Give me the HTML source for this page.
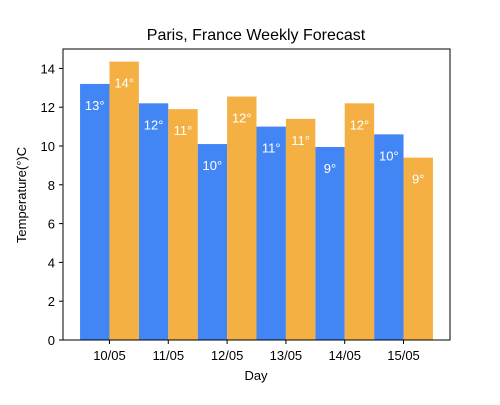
<!DOCTYPE html>
<html><head><meta charset="utf-8">
<style>
body{margin:0;background:#fff;}
svg text{font-family:"Liberation Sans","DejaVu Sans",sans-serif;}
</style></head>
<body>
<svg id="chart" width="500" height="400" xmlns="http://www.w3.org/2000/svg">
<rect width="500" height="400" fill="#fff"/>
<text x="256" y="40" font-size="16" text-anchor="middle" fill="#000">Paris, France Weekly Forecast</text>
<g id="bars"></g>
<g id="axes"></g>
<rect x="63" y="49" width="387" height="291" fill="none" stroke="#000" stroke-width="1"/>
<text x="256" y="380" font-size="13" text-anchor="middle">Day</text>
<text x="26" y="195" font-size="13" text-anchor="middle" transform="rotate(-90 26 195)">Temperature(°)C</text>
</svg>
<script>
const days = ["10/05","11/05","12/05","13/05","14/05","15/05"];
const series1 = [13.2,12.2,10.1,11.0,9.95,10.6];
const series2 = [14.35,11.9,12.55,11.4,12.2,9.4];
const yTicks = [0,2,4,6,8,10,12,14];
const NS="http://www.w3.org/2000/svg";
const L=63,R=450,T=49,B=340,xmin=-0.79,xmax=5.79,ymin=0,ymax=15;
const xs=v=>L+(v-xmin)/(xmax-xmin)*(R-L);
const ys=v=>B-(v-ymin)/(ymax-ymin)*(B-T);
const bars=document.getElementById('bars'),axes=document.getElementById('axes');
function mk(tag,attrs,parent){const e=document.createElementNS(NS,tag);for(const k in attrs)e.setAttribute(k,attrs[k]);parent.appendChild(e);return e;}
const w=0.5;
[[series1,"#4285F4",-1],[series2,"#F4B042",0]].forEach(([s,c,off],si)=>{
 s.forEach((v,i)=>{
  const x0=xs(i+off*w),x1=xs(i+(off+1)*w);
  const r=mk('rect',{x:x0,y:ys(v),width:x1-x0,height:ys(0)-ys(v),fill:c},bars);
  
  
  const t=mk('text',{x:(x0+x1)/2,y:ys(v)+26,'font-size':13,fill:'#fff','text-anchor':'middle'},bars);
  t.textContent=Math.floor(v)+"°";
  
  
 });
});
days.forEach((d,i)=>{
 const x=xs(i);
 const tk=mk('line',{x1:x,x2:x,y1:B,y2:B+4,stroke:'#000'},axes);
 
 
 const t=mk('text',{x:x,y:B+20,'font-size':13,'text-anchor':'middle'},axes);
 t.textContent=d;
 
 
});
yTicks.forEach(v=>{
 const y=ys(v);
 const tk=mk('line',{x1:L-4,x2:L,y1:y,y2:y,stroke:'#000'},axes);
 
 
 const t=mk('text',{x:L-8,y:y+5,'font-size':13,'text-anchor':'end'},axes);
 t.textContent=v;
 
 
});
</script>
</body></html>
